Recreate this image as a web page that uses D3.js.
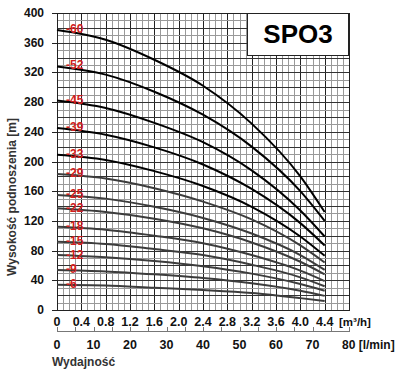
<!DOCTYPE html>
<html>
<head>
<meta charset="utf-8">
<script src="https://cdn.jsdelivr.net/npm/d3@7"></script>
<style>
body { margin:0; background:#fff; }
svg text { font-family:"Liberation Sans", Arial, sans-serif; font-weight:bold; }
</style>
</head>
<body>
<svg id="chart"></svg>
<script>
// flow points (m3/h) where heads were read
var flowPoints = [0, 0.8, 1.6, 2.4, 3.2, 4.0, 4.4];

var head60 = [377, 364, 337, 302, 251, 180, 132];
var head52 = [328, 317, 294, 263, 220, 160, 120];
var head45 = [282, 272, 252, 226, 188, 134, 99];
var head39 = [245, 236, 219, 196, 163, 117, 87];
var head33 = [209, 202, 187, 167, 139, 99, 73];
var head29 = [183, 177, 164, 146, 122, 87, 64];
var head25 = [155, 150, 139, 124, 103, 74, 54];
var head22 = [137, 132, 123, 110, 91, 65, 48];
var head18 = [112, 108, 100, 90, 74, 53, 39];
var head15 = [92, 89, 82, 74, 61, 44, 32];
var head12 = [74, 71, 66, 59, 49, 35, 26];
var head9  = [54, 52, 48, 43, 36, 26, 19];
var head6  = [34, 33, 30, 27, 23, 16, 12];

var pumpNames = ["-60","-52","-45","-39","-33","-29","-25","-22","-18","-15","-12","-9","-6"];
var pumpHeads = [head60, head52, head45, head39, head33, head29, head25, head22, head18, head15, head12, head9, head6];

var yTicks = [0, 40, 80, 120, 160, 200, 240, 280, 320, 360, 400];
var xTicks = [0, 0.4, 0.8, 1.2, 1.6, 2.0, 2.4, 2.8, 3.2, 3.6, 4.0, 4.4];
var lminTicks = [0, 10, 20, 30, 40, 50, 60, 70];

var initChart = function(target)
{
    var screen = {width:400, height:373};
    var plot = {left:57, right:349, top:13, bottom:310};

    var svg = d3.select(target)
        .attr("width", screen.width)
        .attr("height", screen.height);

    var xScale = d3.scaleLinear()
        .domain([0, 4.8])
        .range([plot.left, plot.right]);
    var yScale = d3.scaleLinear()
        .domain([0, 400])
        .range([plot.bottom, plot.top]);
    // second flow axis in l/min, same physical span
    var lScale = d3.scaleLinear()
        .domain([0, 80])
        .range([plot.left, plot.right]);

    drawGrid(svg, plot, xScale, yScale);
    drawCurves(svg, xScale, yScale);
    drawAxes(svg, plot, xScale, yScale, lScale);
    drawTitle(svg);
}

var drawGrid = function(svg, plot, xScale, yScale)
{
    var grid = svg.append("g").classed("grid", true);

    var vx = d3.range(0, 49).map(function(i){ return i/10; });
    grid.selectAll("line.v")
        .data(vx)
        .enter()
        .append("line")
        .attr("x1", function(d){ return Math.round(xScale(d))+0.5; })
        .attr("x2", function(d){ return Math.round(xScale(d))+0.5; })
        .attr("y1", plot.top)
        .attr("y2", plot.bottom)
        .attr("stroke", function(d,i){ return i%4==0 ? "#222" : "#999"; })
        .attr("stroke-width", 1);

    var hy = d3.range(0, 41).map(function(i){ return i*10; });
    grid.selectAll("line.h")
        .data(hy)
        .enter()
        .append("line")
        .attr("y1", function(d){ return Math.round(yScale(d))+0.5; })
        .attr("y2", function(d){ return Math.round(yScale(d))+0.5; })
        .attr("x1", plot.left)
        .attr("x2", plot.right)
        .attr("stroke", function(d,i){ return i%2==0 ? "#333" : "#999"; })
        .attr("stroke-width", 1);

    grid.append("rect")
        .attr("x", plot.left+0.5)
        .attr("y", plot.top+0.5)
        .attr("width", plot.right-plot.left)
        .attr("height", plot.bottom-plot.top)
        .attr("fill", "none")
        .attr("stroke", "#222");
}

var drawCurves = function(svg, xScale, yScale)
{
    var lineGenerator = d3.line()
        .x(function(h,i){ return xScale(flowPoints[i]); })
        .y(function(h){ return yScale(h); })
        .curve(d3.curveMonotoneX);

    var curves = svg.append("g").classed("curves", true);

    curves.selectAll("path")
        .data(pumpHeads)
        .enter()
        .append("path")
        .attr("d", lineGenerator)
        .attr("fill", "none")
        .attr("stroke", function(d,i){ return i<5 ? "#000" : "#3c3c3c"; })
        .attr("stroke-width", 2);

    // label positions at curve start, pushed apart when too close
    var labelY = [];
    pumpHeads.forEach(function(d,i)
    {
        var y = yScale(d[0])+3;
        if(i>0 && y-labelY[i-1] < 14) { y = labelY[i-1]+14; }
        labelY.push(y);
    });

    curves.selectAll("text")
        .data(pumpHeads)
        .enter()
        .append("text")
        .text(function(d,i){ return pumpNames[i]; })
        .attr("x", 66)
        .attr("y", function(d,i){ return labelY[i]; })
        .attr("font-size", 12)
        .attr("fill", "#d02020");
}

var drawAxes = function(svg, plot, xScale, yScale, lScale)
{
    var axes = svg.append("g").classed("axes", true);

    axes.selectAll("line.ytick")
        .data(yTicks)
        .enter()
        .append("line")
        .attr("x1", plot.left-5)
        .attr("x2", plot.left)
        .attr("y1", function(d){ return Math.round(yScale(d))+0.5; })
        .attr("y2", function(d){ return Math.round(yScale(d))+0.5; })
        .attr("stroke", "#222");

    axes.selectAll("text.ylab")
        .data(yTicks)
        .enter()
        .append("text")
        .text(function(d){ return d; })
        .attr("x", 44)
        .attr("y", function(d){ return yScale(d)+4; })
        .attr("text-anchor", "end")
        .attr("font-size", 12)
        .attr("fill", "#111");

    axes.selectAll("text.xlab")
        .data(xTicks)
        .enter()
        .append("text")
        .text(function(d){ return d==0 ? "0" : d.toFixed(1); })
        .attr("x", function(d){ return xScale(d); })
        .attr("y", 326)
        .attr("text-anchor", "middle")
        .attr("font-size", 12.5)
        .attr("fill", "#111");

    axes.append("text")
        .attr("x", 339)
        .attr("y", 326)
        .attr("font-size", 11.5)
        .attr("fill", "#111")
        .text("[m³/h]");

    // l/min axis
    axes.append("line")
        .attr("x1", plot.left)
        .attr("x2", plot.right)
        .attr("y1", 331.5)
        .attr("y2", 331.5)
        .attr("stroke", "#777");

    var lminMinor = d3.range(0, 17).map(function(i){ return i*5; });
    axes.selectAll("line.ltick")
        .data(lminMinor)
        .enter()
        .append("line")
        .attr("x1", function(d){ return Math.round(lScale(d))+0.5; })
        .attr("x2", function(d){ return Math.round(lScale(d))+0.5; })
        .attr("y1", 327)
        .attr("y2", 332)
        .attr("stroke", "#777");

    axes.selectAll("text.llab")
        .data(lminTicks)
        .enter()
        .append("text")
        .text(function(d){ return d; })
        .attr("x", function(d){ return lScale(d); })
        .attr("y", 349)
        .attr("text-anchor", "middle")
        .attr("font-size", 12.5)
        .attr("fill", "#111");

    axes.append("text")
        .attr("x", 342)
        .attr("y", 349)
        .attr("font-size", 12)
        .attr("fill", "#111")
        .text("80 [l/min]");

    axes.append("text")
        .attr("x", 52)
        .attr("y", 366)
        .attr("font-size", 12)
        .attr("fill", "#333")
        .text("Wydajność");

    axes.append("g")
        .attr("transform", "translate(16,197)")
        .append("text")
        .attr("transform", "rotate(-90)")
        .attr("text-anchor", "middle")
        .attr("font-size", 12)
        .attr("fill", "#333")
        .text("Wysokość podnoszenia [m]");
}

var drawTitle = function(svg)
{
    var box = svg.append("g").classed("title", true);
    box.append("rect")
        .attr("x", 247.5)
        .attr("y", 13.5)
        .attr("width", 101)
        .attr("height", 42)
        .attr("fill", "#fff")
        .attr("stroke", "#222");
    box.append("text")
        .attr("x", 298)
        .attr("y", 43)
        .attr("text-anchor", "middle")
        .attr("font-size", 26)
        .attr("fill", "#000")
        .text("SPO3");
}

initChart("#chart");
</script>
</body>
</html>
